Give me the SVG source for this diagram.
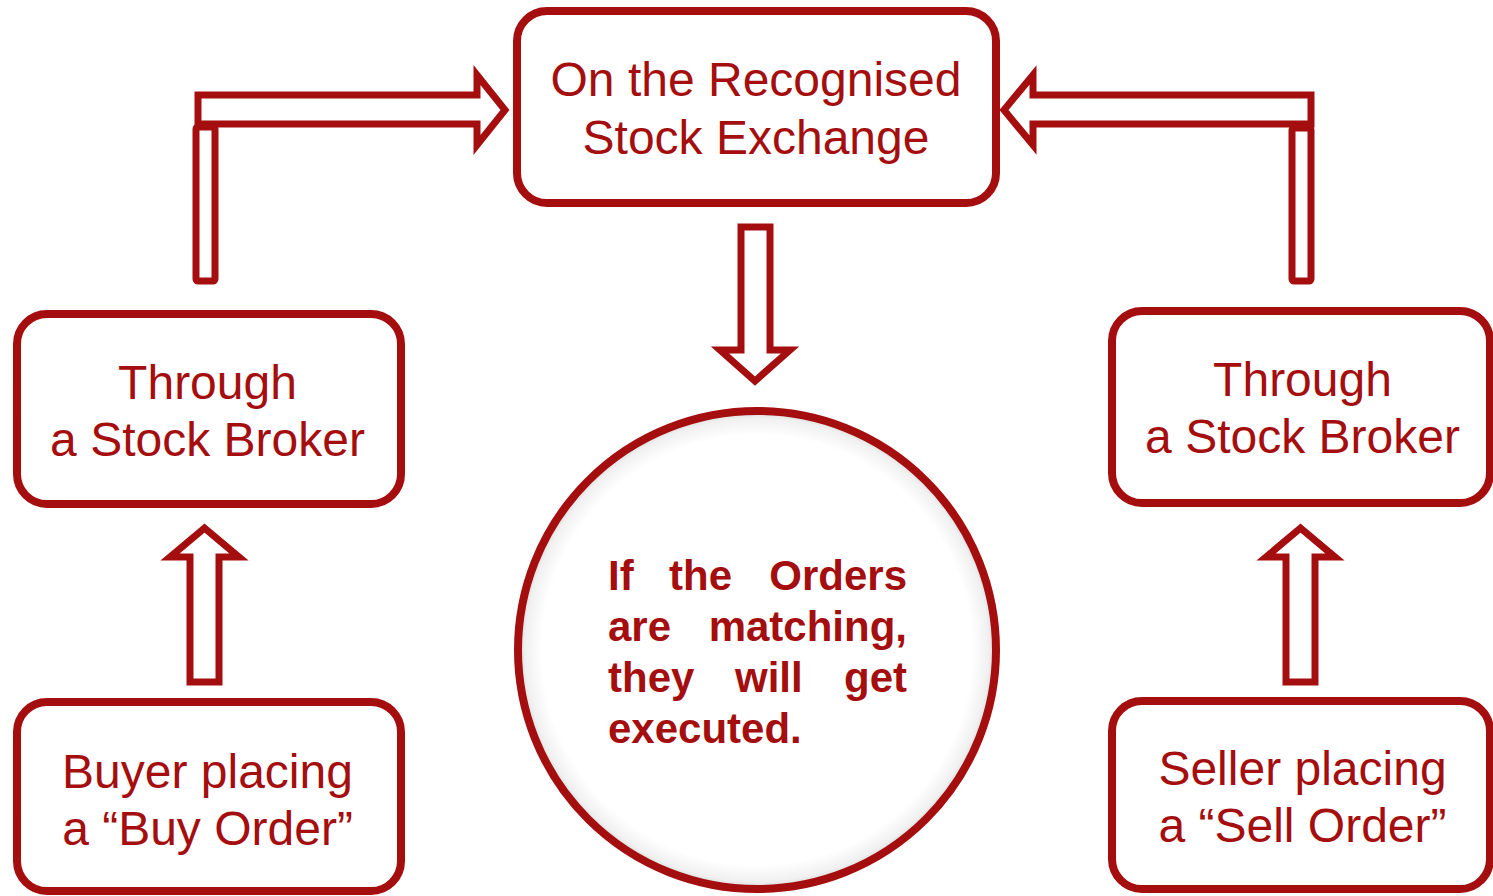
<svg xmlns="http://www.w3.org/2000/svg" width="1493" height="896" viewBox="0 0 1493 896">
<style>
.box{fill:#fff;stroke:#A50E0E;stroke-width:8}
.arr{fill:#fff;stroke:#A50E0E;stroke-width:7;stroke-linejoin:miter;stroke-miterlimit:10}
.bar{fill:#fff;stroke:#A50E0E;stroke-width:7;stroke-linejoin:round}
.t{font-family:"Liberation Sans",Arial,sans-serif;font-size:48px;fill:#A50E0E;text-anchor:middle}
.c{font-family:"Liberation Sans",Arial,sans-serif;font-size:42px;font-weight:bold;fill:#A50E0E}
</style>
<defs>
<radialGradient id="sh" cx="0.5" cy="0.5" r="0.5">
<stop offset="0.9" stop-color="#ffffff"/>
<stop offset="0.97" stop-color="#f0f0f0"/>
<stop offset="1" stop-color="#d6d6d6"/>
</radialGradient>
</defs>
<rect width="1493" height="896" fill="#fff"/>
<g id="connectors">
<rect class="bar" x="196" y="127" width="19" height="154" rx="2"/>
<polygon class="arr" points="198,95 477,95 477,75 505,110 477,145 477,124 198,124"/>
<rect class="bar" x="1292" y="128" width="19" height="153" rx="2"/>
<polygon class="arr" points="1311,95 1033,95 1033,75 1004,110 1033,145 1033,124 1311,124"/>
<polygon class="arr" points="741,227 770,227 770,350 790,350 755,381 720,350 741,350"/>
<polygon class="arr" points="190,682 219,682 219,557 239,557 204.5,528 170,557 190,557"/>
<polygon class="arr" points="1286,682 1315,682 1315,557 1335,557 1300.5,528 1266,557 1286,557"/>
</g>
<g id="exchange">
<rect class="box" x="517" y="11" width="479" height="192" rx="30"/>
<text class="t" x="756" y="96">On the Recognised</text>
<text class="t" x="756" y="154">Stock Exchange</text>
</g>
<g id="broker-left">
<rect class="box" x="17" y="314" width="384" height="190" rx="30"/>
<text class="t" x="207.5" y="399">Through</text>
<text class="t" x="207.5" y="456">a Stock Broker</text>
</g>
<g id="broker-right">
<rect class="box" x="1112" y="311" width="378" height="192" rx="30"/>
<text class="t" x="1302.5" y="396">Through</text>
<text class="t" x="1302.5" y="453">a Stock Broker</text>
</g>
<g id="buyer">
<rect class="box" x="17" y="702" width="384" height="189" rx="30"/>
<text class="t" x="207.5" y="788">Buyer placing</text>
<text class="t" x="207.5" y="845">a “Buy Order”</text>
</g>
<g id="seller">
<rect class="box" x="1112" y="701" width="378" height="188" rx="30"/>
<text class="t" x="1302.5" y="785">Seller placing</text>
<text class="t" x="1302.5" y="842">a “Sell Order”</text>
</g>
<g id="match">
<circle cx="757" cy="650" r="239" fill="url(#sh)" stroke="#A50E0E" stroke-width="8"/>
<text class="c" x="608" y="590">If</text>
<text class="c" x="669" y="590">the</text>
<text class="c" x="907" y="590" text-anchor="end">Orders</text>
<text class="c" x="608" y="641">are</text>
<text class="c" x="907" y="641" text-anchor="end">matching,</text>
<text class="c" x="608" y="692">they</text>
<text class="c" x="735" y="692">will</text>
<text class="c" x="907" y="692" text-anchor="end">get</text>
<text class="c" x="608" y="743">executed.</text>
</g>
</svg>
